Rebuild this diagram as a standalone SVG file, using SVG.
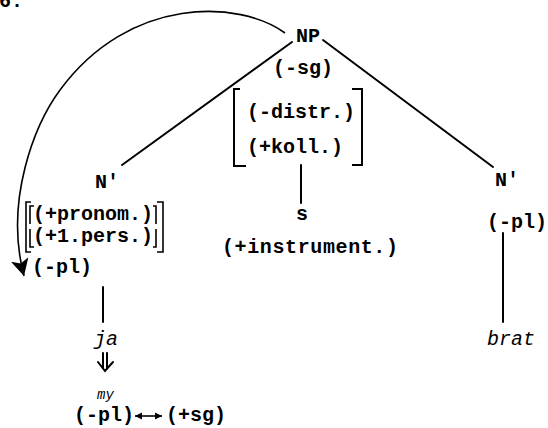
<svg xmlns="http://www.w3.org/2000/svg" width="548" height="428" viewBox="0 0 548 428">
<defs>
<style>
text{font-family:"Liberation Mono","Courier New",monospace;font-size:20px;font-weight:bold;fill:#000}
.it{font-style:italic;font-weight:normal}
.sm{font-size:14px}
.ln{stroke:#000;stroke-width:2;fill:none;stroke-linecap:round}
.thin{stroke:#000;stroke-width:1.6;fill:none}
.br{stroke:#000;stroke-width:2;fill:none}
</style>
<marker id="ah" markerUnits="userSpaceOnUse" markerWidth="20" markerHeight="20" refX="17" refY="9" orient="auto">
<path d="M0,0 L17,9 L0,18 L4,9 z" fill="#000"/>
</marker>
<marker id="sh" markerUnits="userSpaceOnUse" markerWidth="8" markerHeight="8" refX="7" refY="4" orient="auto-start-reverse">
<path d="M0,0.5 L7,4 L0,7.5 z" fill="#000"/>
</marker>
</defs>
<rect width="548" height="428" fill="#fff"/>
<text x="-1" y="7">6:</text>
<g id="connectors">
<path class="ln" d="M292,42 L122,165"/>
<path class="ln" d="M323,40 L493,167"/>
<path class="ln" d="M301,165 V203"/>
<path class="ln" d="M503,233 V322"/>
<path class="ln" d="M103,287 V322"/>
<path class="thin" d="M285,33 C240,0 130,-5 60,90 C35,124 4,200 24,276" marker-end="url(#ah)"/>
<path class="ln" d="M103,353 V368 M107,353 V368 M98,362 L105,371 L113,362"/>
<path class="thin" d="M135,416 H162" marker-start="url(#sh)" marker-end="url(#sh)"/>
</g>
<g id="np">
<text x="296" y="42">NP</text>
<text x="273" y="74">(-sg)</text>
</g>
<g id="features-mid">
<path class="br" d="M240,89 H234 V166 H246"/>
<path class="br" d="M352,89 H362 V165 H352"/>
<text x="247" y="118">(-distr.)</text>
<text x="247" y="153">(+koll.)</text>
</g>
<g id="s-node">
<text x="302" y="220" text-anchor="middle">s</text>
<text x="222" y="253" textLength="176">(+instrument.)</text>
</g>
<g id="n-left">
<text x="95" y="188">N'</text>
<path class="thin" d="M31,202 H26 V252 H31"/>
<path class="thin" d="M34,206 H30 V224 M30,229 V247 H34"/>
<path class="thin" d="M157,202 H163 V252 H157"/>
<path class="thin" d="M153,206 H156 V224 M156,229 V247 H153"/>
<text x="33" y="220">(+pronom.)</text>
<text x="33" y="242">(+1.pers.)</text>
<text x="32" y="273">(-pl)</text>
</g>
<g id="ja">
<text class="it" x="94" y="345">ja</text>
</g>
<g id="my">
<text class="it sm" x="97" y="399">my</text>
<text x="74" y="421">(-pl)</text>
<text x="166" y="421">(+sg)</text>
</g>
<g id="n-right">
<text x="495" y="186">N'</text>
<text x="487" y="228">(-pl)</text>
</g>
<g id="brat">
<text class="it" x="487" y="345">brat</text>
</g>
</svg>
